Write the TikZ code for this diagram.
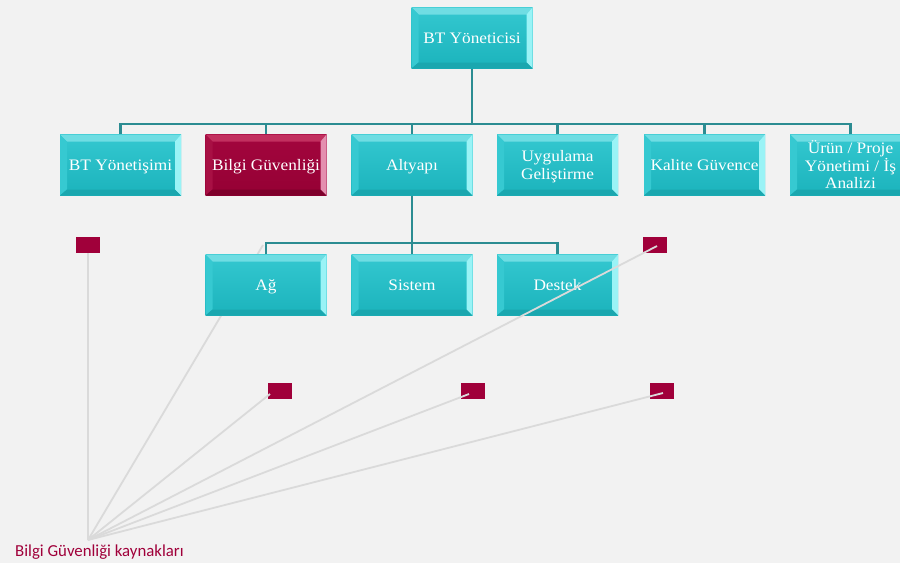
\documentclass[tikz,border=0pt]{standalone}
\usepackage{fontspec}
\setmainfont[FakeStretch=1.08]{Liberation Serif}
\newfontfamily\labelfont{Carlito}
\usetikzlibrary{calc}
\begin{document}
\begin{tikzpicture}[x=1pt,y=-1pt,
  bev/.style n args={6}{% facetop, facebottom, top, left, right, bottom
    draw=none, minimum width=121pt, minimum height=61pt, inner sep=1pt,
    align=center, text=white, font=\fontsize{16}{18.5}\selectfont, text depth=0pt,
    top color=#1, bottom color=#2,
    path picture={
      \fill[#3] (path picture bounding box.north west) -- (path picture bounding box.north east)
        -- ([xshift=-6pt,yshift=-7pt]path picture bounding box.north east)
        -- ([xshift=7pt,yshift=-7pt]path picture bounding box.north west) -- cycle;
      \fill[#4] (path picture bounding box.north west) -- ([xshift=7pt,yshift=-7pt]path picture bounding box.north west)
        -- ([xshift=7pt,yshift=6pt]path picture bounding box.south west)
        -- (path picture bounding box.south west) -- cycle;
      \fill[#5] (path picture bounding box.north east) -- ([xshift=-6pt,yshift=-7pt]path picture bounding box.north east)
        -- ([xshift=-6pt,yshift=6pt]path picture bounding box.south east)
        -- (path picture bounding box.south east) -- cycle;
      \fill[#6] (path picture bounding box.south west) -- ([xshift=7pt,yshift=6pt]path picture bounding box.south west)
        -- ([xshift=-6pt,yshift=6pt]path picture bounding box.south east)
        -- (path picture bounding box.south east) -- cycle;
    }},
  tbox/.style={bev={tfacet}{tfaceb}{ttop}{tleft}{tright}{tbot}},
  rbox/.style={bev={rfacet}{rfaceb}{rtop}{rleft}{rright}{rbot}},
  conn/.style={draw=tline, line width=2.2pt},
  ray/.style={draw=rayc, line width=1.8pt},
  sq/.style={fill=crim, minimum width=24pt, minimum height=16pt, inner sep=0pt, draw=none}
]
\definecolor{bg}{HTML}{F2F2F2}
\definecolor{tfacet}{HTML}{34C8D0}
\definecolor{tfaceb}{HTML}{1BB3BC}
\definecolor{ttop}{HTML}{6FDDE3}
\definecolor{tleft}{HTML}{36C9D1}
\definecolor{tright}{HTML}{9AF3F6}
\definecolor{tbot}{HTML}{1AA7AF}
\definecolor{rfacet}{HTML}{A3063E}
\definecolor{rfaceb}{HTML}{950034}
\definecolor{rtop}{HTML}{C2305F}
\definecolor{rleft}{HTML}{A81044}
\definecolor{rright}{HTML}{E48FAF}
\definecolor{rbot}{HTML}{7E002B}
\definecolor{tline}{HTML}{2C8C92}
\definecolor{rayc}{HTML}{DADADA}
\definecolor{crim}{HTML}{A0003A}

\fill[bg] (0,0) rectangle (900,563);
\useasboundingbox (0,0) rectangle (900,563);

% ray that passes beneath the boxes
\coordinate (src) at (88,540);
\coordinate (e2) at (263,245);
\draw[ray] (src) -- (e2);

% boxes
\node[tbox] (top) at (472,38) {BT Yöneticisi};
\node[tbox] (b1) at (120.5,165) {BT Yönetişimi};
\node[rbox] (b2) at (266,165) {Bilgi Güvenliği};
\node[tbox] (b3) at (412,165) {Altyapı};
\node[tbox] (b4) at (557.5,165) {Uygulama\\Geliştirme};
\node[tbox, font=\fontsize{16}{17.5}\selectfont] (b5) at (704.5,165) {Kalite Güvence};
\node[tbox, font=\fontsize{16}{17.5}\selectfont] (b6) at (850.5,165) {Ürün / Proje\\Yönetimi / İş\\Analizi};
\node[tbox] (c1) at (266,285) {Ağ};
\node[tbox] (c2) at (412,285) {Sistem};
\node[tbox] (c3) at (557.5,285) {Destek};

% connectors
\coordinate (j1) at ($(top.south)+(0,55)$);
\coordinate (j2) at ($(b3.south)+(0,47)$);
\draw[conn] (top.south) -- (j1);
\foreach \b in {b1,b2,b3,b4,b5,b6} \draw[conn] (\b.north) |- (j1);
\draw[conn] (b3.south) -- (j2);
\foreach \c in {c1,c2,c3} \draw[conn] (\c.north) |- (j2);

% red markers
\node[sq] (s1) at (88,245) {};
\node[sq] (s2) at (655,245) {};
\node[sq] (s3) at (280,391) {};
\node[sq] (s4) at (473,391) {};
\node[sq] (s5) at (662,391) {};

% source label and rays
\node[font=\labelfont\fontsize{16.8}{19}\selectfont, text=crim, anchor=west, inner sep=0pt] (lab) at (15,552) {Bilgi Güvenliği kaynakları};
\draw[ray] (src) -- (s1.south);
\draw[ray] (src) -- ($(s2.center)+(2,1)$);
\draw[ray] (src) -- ($(s3.center)+(-10,3)$);
\draw[ray] (src) -- ($(s4.center)+(-4,3)$);
\draw[ray] (src) -- ($(s5.center)+(1,2)$);
\end{tikzpicture}
\end{document}
